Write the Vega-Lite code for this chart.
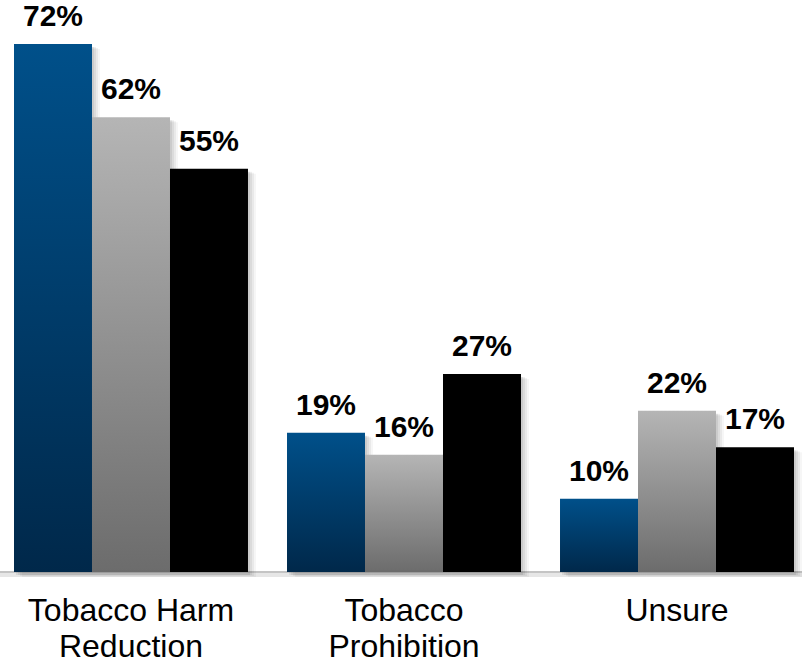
{
  "$schema": "https://vega.github.io/schema/vega-lite/v6.json",
  "width": 802,
  "height": 572,
  "autosize": {"type": "none"},
  "padding": {"top": 0, "left": 0, "right": 0, "bottom": 91},
  "background": "white",
  "config": {"view": {"stroke": null}, "font": "Liberation Sans"},
  "data": {"values": [
    {"cat": "Tobacco Harm|Reduction", "series": "s1", "value": 0.72},
    {"cat": "Tobacco Harm|Reduction", "series": "s2", "value": 0.62},
    {"cat": "Tobacco Harm|Reduction", "series": "s3", "value": 0.55},
    {"cat": "Tobacco|Prohibition", "series": "s1", "value": 0.19},
    {"cat": "Tobacco|Prohibition", "series": "s2", "value": 0.16},
    {"cat": "Tobacco|Prohibition", "series": "s3", "value": 0.27},
    {"cat": "Unsure", "series": "s1", "value": 0.10},
    {"cat": "Unsure", "series": "s2", "value": 0.22},
    {"cat": "Unsure", "series": "s3", "value": 0.17}
  ]},
  "encoding": {
    "x": {
      "field": "cat", "type": "nominal",
      "scale": {"domain": ["Tobacco Harm|Reduction", "Tobacco|Prohibition", "Unsure"], "range": [14, 794], "paddingInner": 0.1429, "paddingOuter": 0},
      "axis": {
        "title": null, "domain": false, "ticks": false, "labelAngle": 0,
        "labelExpr": "split(datum.value, '|')",
        "labelFont": "Liberation Sans", "labelFontSize": 32, "labelColor": "#000000",
        "labelLineHeight": 36, "labelPadding": 23, "labelBaseline": "top", "labelLimit": 0
      }
    },
    "y": {"field": "value", "type": "quantitative", "scale": {"domain": [0, 0.78], "nice": false, "zero": true}, "axis": null}
  },
  "resolve": {"scale": {"xOffset": "independent"}},
  "layer": [
    {"mark": {"type": "rule", "stroke": "#E6E6E6", "strokeWidth": 3, "yOffset": 3}, "encoding": {"x": null, "y": {"datum": 0}}},
    {"mark": {"type": "rule", "stroke": "#C4C4C4", "strokeWidth": 2}, "encoding": {"x": null, "y": {"datum": 0}}},
    {"mark": {"type": "bar", "fill": "#000000", "opacity": 0.07, "yOffset": 3},
     "encoding": {"xOffset": {"field": "series", "type": "nominal", "scale": {"range": [2, 236], "paddingInner": 0, "paddingOuter": 0}}}},
    {"mark": {"type": "bar", "fill": "#000000", "opacity": 0.06, "yOffset": 3},
     "encoding": {"xOffset": {"field": "series", "type": "nominal", "scale": {"range": [4, 238], "paddingInner": 0, "paddingOuter": 0}}}},
    {"mark": {"type": "bar", "fill": "#000000", "opacity": 0.05, "yOffset": 4},
     "encoding": {"xOffset": {"field": "series", "type": "nominal", "scale": {"range": [6, 240], "paddingInner": 0, "paddingOuter": 0}}}},
    {"mark": {"type": "bar", "fill": "#000000", "opacity": 0.035, "yOffset": 5},
     "encoding": {"xOffset": {"field": "series", "type": "nominal", "scale": {"range": [8, 242], "paddingInner": 0, "paddingOuter": 0}}}},
    {"encoding": {"xOffset": {"field": "series", "type": "nominal", "scale": {"paddingInner": 0, "paddingOuter": 0}}},
     "layer": [
      {"transform": [{"filter": "datum.series === 's1'"}],
       "mark": {"type": "bar", "fill": {"gradient": "linear", "x1": 0, "y1": 0, "x2": 0, "y2": 1, "stops": [{"offset": 0, "color": "#00508A"}, {"offset": 1, "color": "#00284A"}]}}},
      {"transform": [{"filter": "datum.series === 's2'"}],
       "mark": {"type": "bar", "fill": {"gradient": "linear", "x1": 0, "y1": 0, "x2": 0, "y2": 1, "stops": [{"offset": 0, "color": "#B5B5B5"}, {"offset": 1, "color": "#6C6C6C"}]}}},
      {"transform": [{"filter": "datum.series === 's3'"}],
       "mark": {"type": "bar", "fill": "#000000"}},
      {"mark": {"type": "text", "font": "Liberation Sans", "fontSize": 30, "fontWeight": "bold", "color": "#000000", "baseline": "alphabetic", "align": "center", "dy": -18},
       "encoding": {"text": {"field": "value", "type": "quantitative", "format": ".0%"}}}
     ]}
  ]
}
